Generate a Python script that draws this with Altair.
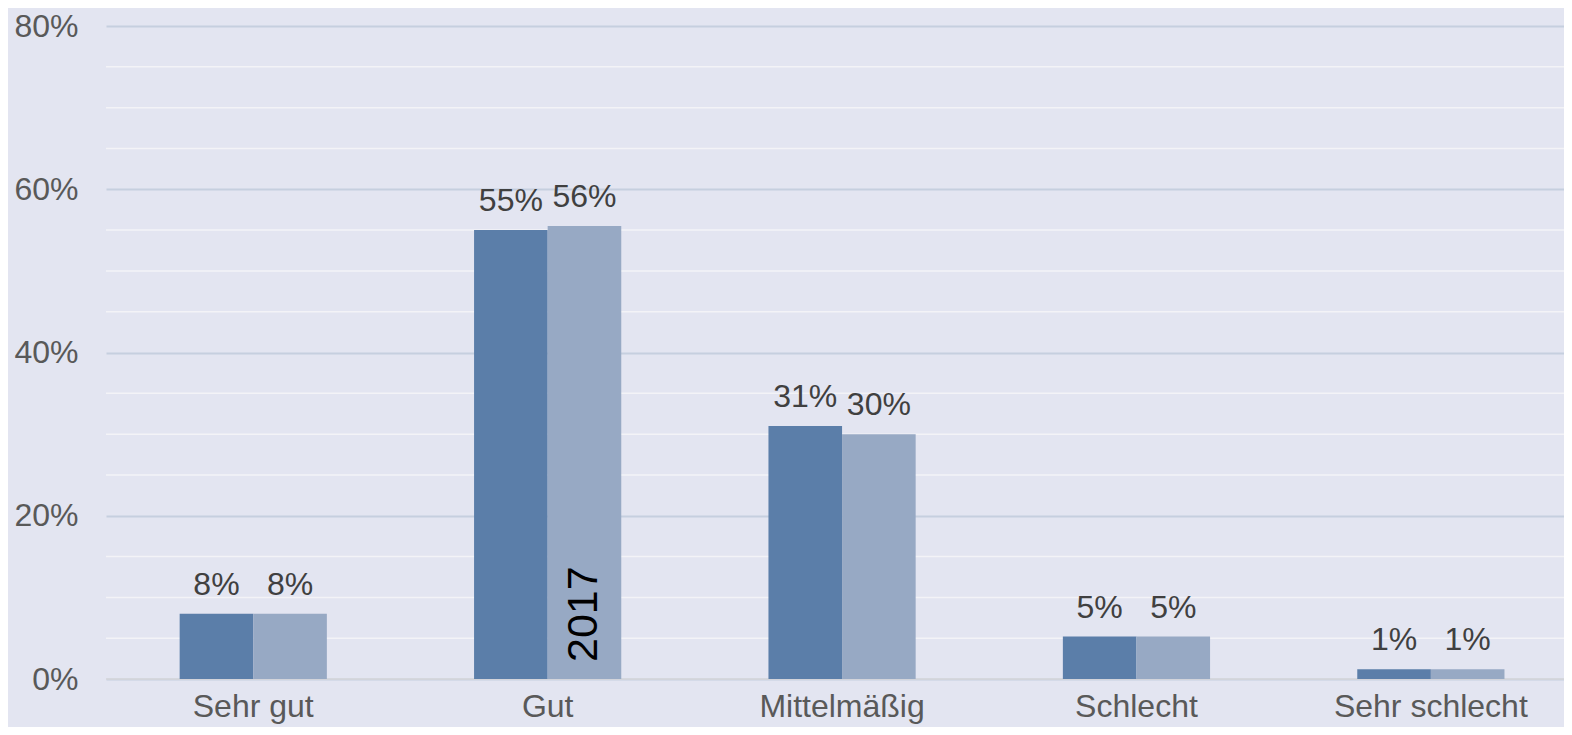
import altair as alt
import pandas as pd

categories = ["Sehr gut", "Gut", "Mittelmäßig", "Schlecht", "Sehr schlecht"]
series = ["2016", "2017"]
values_a = [8.0, 55.0, 31.0, 5.2, 1.2]
values_b = [8.0, 55.5, 30.0, 5.2, 1.2]
labels_a = ["8%", "55%", "31%", "5%", "1%"]
labels_b = ["8%", "56%", "30%", "5%", "1%"]
major_ticks = [0, 20, 40, 60, 80]
minor_ticks = [5, 10, 15, 25, 30, 35, 45, 50, 55, 65, 70, 75]
series_name_category = "Gut"
series_name = "2017"

rows = []
for c, va, vb, la, lb in zip(categories, values_a, values_b, labels_a, labels_b):
    rows.append({"cat": c, "series": series[0], "value": va, "label": la})
    rows.append({"cat": c, "series": series[1], "value": vb, "label": lb})
df = pd.DataFrame(rows)
minor_df = pd.DataFrame({"value": minor_ticks})
zero_df = pd.DataFrame({"value": [0]})
name_df = pd.DataFrame({"cat": [series_name_category], "series": [series_name],
                        "value": [0], "label": [series_name]})

FONT = "Liberation Sans"
FS = 32
yscale = alt.Scale(domain=[0, 80], nice=False, zero=True)
yaxis = alt.Axis(title=None, values=major_ticks, ticks=False, domain=False,
                 labelExpr="datum.value + '%'", labelFontSize=FS,
                 labelColor="#595959", labelFont=FONT, labelPadding=28,
                 grid=True, gridColor="#c6cfdf", gridWidth=2)
xscale = alt.Scale(domain=categories, paddingInner=0.5, paddingOuter=0.2262,
                   align=0.553, round=False)
xoff_scale = alt.Scale(domain=series, paddingInner=0, paddingOuter=0, round=False)
color_scale = alt.Scale(domain=series, range=["#5b7ea9", "#97a9c4"])

ybase = alt.Y("value:Q", scale=yscale, axis=yaxis)

minor = alt.Chart(minor_df).mark_rule(color="#f3f3f7", strokeWidth=1.5).encode(y=ybase)
zero = alt.Chart(zero_df).mark_rule(color="#d6d6da", strokeWidth=1.5).encode(y=ybase)

base = alt.Chart(df).encode(
    x=alt.X("cat:N", scale=xscale, sort=categories,
            axis=alt.Axis(title=None, labelAngle=0, ticks=False, domain=False,
                          labelFontSize=FS, labelColor="#595959", labelFont=FONT,
                          labelPadding=12, labelLimit=0, grid=False)),
    xOffset=alt.XOffset("series:N", scale=xoff_scale, sort=series),
)

bars = base.mark_bar().encode(
    y=ybase,
    color=alt.Color("series:N", scale=color_scale, legend=None),
)

texts = base.mark_text(baseline="alphabetic", dy=-19, fontSize=FS, font=FONT,
                       color="#404040").encode(
    y=ybase,
    text="label:N",
)

name_text = alt.Chart(name_df).mark_text(angle=270, align="left", baseline="middle",
                                         dx=17, fontSize=43, font=FONT,
                                         color="#000000").encode(
    x=alt.X("cat:N", scale=xscale, sort=categories),
    xOffset=alt.XOffset("series:N", scale=xoff_scale, sort=series),
    y=ybase,
    text="label:N",
)

chart = alt.layer(minor, zero, bars, texts, name_text).properties(
    width=1458, height=653,
    autosize=alt.AutoSizeParams(type="none"),
    padding={"left": 98, "top": 18, "right": 0, "bottom": 48},
    background="#e3e5f1",
).configure_view(stroke=None)

chart.save("out.html", embed_options={"renderer": "svg", "actions": False})
